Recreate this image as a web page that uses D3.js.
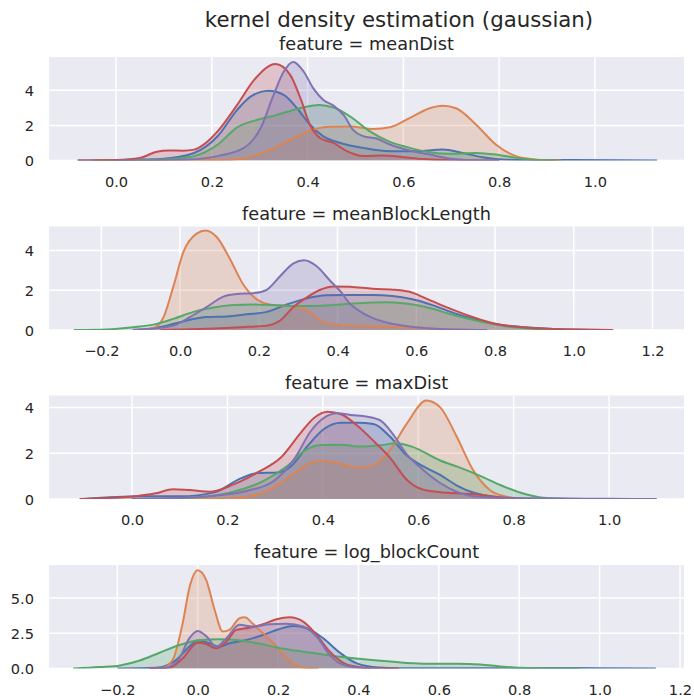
<!DOCTYPE html>
<html>
<head>
<meta charset="utf-8">
<script src="https://cdn.jsdelivr.net/npm/d3@7/dist/d3.min.js"></script>
<style>
  html, body { margin: 0; padding: 0; background: #ffffff; }
  svg { display: block; font-family: "DejaVu Sans", sans-serif; }
</style>
</head>
<body>
<svg id="chart" width="694" height="696"></svg>
<script>
// Facet names and hue colours (seaborn "deep")
const features = ["meanDist", "meanBlockLength", "maxDist", "log_blockCount"];
const hueColors = ["#4C72B0", "#DD8452", "#55A868", "#C44E52", "#8172B3"];

// Axis limits and tick values per facet
const xLimits = [[-0.14, 1.186], [-0.333, 1.28], [-0.174, 1.157], [-0.37, 1.21]];
const yLimits = [[0, 5.9], [0, 5.2], [0, 4.52], [0, 7.35]];
const xTickValues = [
  [0.0, 0.2, 0.4, 0.6, 0.8, 1.0],
  [-0.2, 0.0, 0.2, 0.4, 0.6, 0.8, 1.0, 1.2],
  [0.0, 0.2, 0.4, 0.6, 0.8, 1.0],
  [-0.2, 0.0, 0.2, 0.4, 0.6, 0.8, 1.0, 1.2]
];
const yTickValues = [[0, 2, 4], [0, 2, 4], [0, 2, 4], [0, 2.5, 5]];
const yTickFormats = ["d", "d", "d", ".1f"];

// Density curves per facet, one [x, density] list per hue (blue, orange, green, red, purple)
const meanDistCurves = [
  [[-0.08,0],[0.0,0.02],[0.05,0.05],[0.1,0.1],[0.163,0.43],[0.212,1.38],[0.253,2.89],[0.281,3.64],[0.318,3.97],[0.35,3.74],[0.378,2.98],[0.405,2.04],[0.433,1.38],[0.468,1.0],[0.516,0.72],[0.572,0.53],[0.627,0.53],[0.682,0.62],[0.724,0.43],[0.765,0.19],[0.807,0.06],[0.86,0.03],[0.95,0.03],[1.05,0.02],[1.13,0]],
  [[-0.02,0],[0.1,0.01],[0.2,0.03],[0.246,0.06],[0.28,0.2],[0.316,0.53],[0.364,1.19],[0.405,1.7],[0.447,1.92],[0.489,1.94],[0.537,1.79],[0.572,1.89],[0.613,2.42],[0.655,2.98],[0.682,3.12],[0.71,2.98],[0.752,2.04],[0.793,0.91],[0.835,0.25],[0.88,0.05],[0.93,0]],
  [[-0.05,0],[0.05,0.02],[0.12,0.1],[0.163,0.25],[0.212,0.9],[0.253,1.89],[0.295,2.32],[0.336,2.6],[0.378,2.94],[0.425,3.17],[0.454,3.02],[0.489,2.51],[0.53,1.66],[0.572,1.06],[0.613,0.72],[0.655,0.47],[0.696,0.38],[0.752,0.43],[0.793,0.34],[0.835,0.15],[0.87,0.04],[0.92,0]],
  [[-0.08,0],[0.0,0.03],[0.05,0.15],[0.085,0.5],[0.11,0.57],[0.14,0.56],[0.163,0.62],[0.185,0.95],[0.212,1.66],[0.253,3.17],[0.288,4.58],[0.333,5.5],[0.364,4.87],[0.385,3.55],[0.405,2.04],[0.426,1.28],[0.454,1.0],[0.482,0.53],[0.516,0.25],[0.558,0.28],[0.6,0.19],[0.641,0.09],[0.7,0.02],[0.8,0]],
  [[0.0,0],[0.1,0.02],[0.15,0.05],[0.212,0.25],[0.267,0.72],[0.302,1.85],[0.329,3.74],[0.35,5.06],[0.37,5.62],[0.392,5.06],[0.412,4.11],[0.433,3.45],[0.454,3.13],[0.475,2.6],[0.495,1.75],[0.516,1.38],[0.544,1.25],[0.572,0.91],[0.613,0.57],[0.655,0.34],[0.696,0.11],[0.74,0.02],[0.8,0]]
];
const meanBlockLengthCurves = [
  [[-0.12,0],[-0.1,0.02],[-0.034,0.22],[0.017,0.48],[0.068,0.65],[0.119,0.68],[0.17,0.79],[0.22,0.91],[0.271,1.28],[0.322,1.59],[0.373,1.74],[0.424,1.76],[0.488,1.76],[0.539,1.71],[0.59,1.54],[0.641,1.25],[0.7,0.82],[0.76,0.48],[0.828,0.22],[0.913,0.09],[0.998,0.02],[1.1,0]],
  [[-0.1,0],[-0.068,0.1],[-0.042,0.65],[-0.017,2.19],[0.008,3.9],[0.042,4.84],[0.065,5.0],[0.093,4.67],[0.127,3.56],[0.161,2.27],[0.195,1.54],[0.237,1.25],[0.28,1.2],[0.322,0.99],[0.364,0.39],[0.403,0.25],[0.449,0.2],[0.49,0.19],[0.573,0.14],[0.658,0.05],[0.75,0]],
  [[-0.27,0],[-0.186,0.03],[-0.119,0.14],[-0.068,0.27],[-0.017,0.56],[0.034,0.91],[0.085,1.13],[0.136,1.25],[0.186,1.28],[0.237,1.25],[0.288,1.2],[0.339,1.2],[0.39,1.25],[0.44,1.33],[0.522,1.4],[0.573,1.33],[0.624,1.16],[0.683,0.82],[0.76,0.44],[0.828,0.19],[0.913,0.05],[1.0,0]],
  [[-0.05,0],[0.05,0.05],[0.153,0.14],[0.22,0.22],[0.254,0.48],[0.288,1.16],[0.322,1.64],[0.356,2.02],[0.39,2.19],[0.432,2.17],[0.488,2.07],[0.547,2.02],[0.581,1.93],[0.624,1.59],[0.675,1.16],[0.743,0.65],[0.794,0.34],[0.87,0.14],[0.955,0.05],[1.1,0]],
  [[-0.12,0],[-0.1,0.02],[-0.017,0.22],[0.025,0.65],[0.068,1.16],[0.11,1.68],[0.144,1.81],[0.186,1.85],[0.22,2.02],[0.254,2.7],[0.288,3.35],[0.315,3.5],[0.347,3.2],[0.38,2.5],[0.407,1.95],[0.43,1.35],[0.46,0.9],[0.49,0.6],[0.53,0.35],[0.573,0.2],[0.658,0.05],[0.78,0]]
];
const maxDistCurves = [
  [[-0.1,0],[0.017,0.12],[0.102,0.12],[0.172,0.29],[0.228,0.9],[0.263,1.13],[0.305,1.16],[0.333,1.42],[0.368,2.32],[0.403,3.07],[0.438,3.33],[0.473,3.33],[0.506,3.28],[0.541,2.72],[0.576,1.9],[0.611,1.42],[0.646,1.05],[0.68,0.6],[0.717,0.27],[0.766,0.08],[0.82,0.02],[0.95,0]],
  [[0.05,0],[0.15,0.01],[0.207,0.03],[0.277,0.29],[0.333,1.01],[0.368,1.52],[0.396,1.67],[0.431,1.57],[0.473,1.36],[0.508,1.5],[0.541,2.15],[0.576,3.29],[0.617,4.3],[0.646,4.0],[0.68,2.75],[0.715,1.26],[0.75,0.39],[0.785,0.1],[0.84,0]],
  [[0.0,0],[0.102,0.03],[0.207,0.29],[0.277,0.8],[0.326,1.45],[0.361,2.1],[0.396,2.36],[0.438,2.37],[0.48,2.29],[0.522,2.35],[0.553,2.43],[0.585,2.3],[0.646,1.68],[0.69,1.35],[0.731,1.0],[0.773,0.6],[0.815,0.27],[0.857,0.07],[0.92,0]],
  [[-0.11,0],[-0.004,0.1],[0.05,0.25],[0.086,0.43],[0.12,0.39],[0.165,0.32],[0.214,0.65],[0.263,1.16],[0.312,1.81],[0.354,2.9],[0.382,3.55],[0.41,3.81],[0.438,3.7],[0.473,3.19],[0.508,2.5],[0.541,1.8],[0.576,0.84],[0.611,0.4],[0.662,0.27],[0.717,0.21],[0.766,0.09],[0.82,0]],
  [[0.0,0],[0.1,0.05],[0.172,0.14],[0.242,0.36],[0.298,0.8],[0.34,1.74],[0.375,2.97],[0.403,3.55],[0.431,3.74],[0.459,3.67],[0.494,3.59],[0.522,3.41],[0.548,2.8],[0.576,1.95],[0.611,1.26],[0.646,0.7],[0.68,0.32],[0.715,0.12],[0.8,0.03],[0.9,0.02],[1.0,0.01],[1.1,0]]
];
const logBlockCountCurves = [
  [[-0.2,0],[-0.104,0.05],[-0.054,0.6],[-0.021,1.55],[0.0,1.98],[0.029,1.79],[0.054,1.55],[0.079,1.79],[0.121,2.02],[0.1625,2.38],[0.204,2.81],[0.2375,3.02],[0.271,2.86],[0.3125,2.14],[0.354,1.12],[0.396,0.36],[0.45,0.07],[0.5,0.02],[0.7,0.02],[0.9,0.03],[1.0,0.02],[1.14,0]],
  [[-0.12,0],[-0.0875,0.05],[-0.0625,0.6],[-0.0375,3.2],[-0.02,5.8],[0.0,6.98],[0.021,6.3],[0.042,4.17],[0.0625,2.62],[0.079,2.74],[0.104,3.57],[0.117,3.64],[0.1375,3.17],[0.1625,2.5],[0.1875,1.83],[0.2125,1.07],[0.2375,0.36],[0.2625,0.07],[0.3,0]],
  [[-0.31,0],[-0.243,0.1],[-0.193,0.22],[-0.144,0.57],[-0.095,1.12],[-0.045,1.67],[0.004,2.0],[0.053,2.08],[0.103,2.0],[0.152,1.77],[0.2,1.48],[0.251,1.24],[0.3,1.05],[0.354,0.83],[0.4,0.69],[0.479,0.49],[0.562,0.34],[0.645,0.34],[0.703,0.29],[0.753,0.15],[0.803,0.05],[0.9,0.01],[0.95,0]],
  [[-0.12,0],[-0.071,0.05],[-0.0375,0.71],[0.0,1.83],[0.021,1.74],[0.046,1.43],[0.071,1.9],[0.096,2.74],[0.129,2.9],[0.1625,3.14],[0.196,3.5],[0.229,3.64],[0.2625,3.33],[0.296,2.38],[0.329,1.19],[0.3625,0.4],[0.396,0.12],[0.44,0.02],[0.5,0]],
  [[-0.12,0],[-0.079,0.05],[-0.046,0.71],[-0.021,2.14],[0.0,2.67],[0.021,2.31],[0.046,1.55],[0.071,2.14],[0.104,3.1],[0.1375,2.98],[0.179,3.14],[0.221,3.17],[0.2625,2.98],[0.296,2.26],[0.329,0.95],[0.354,0.36],[0.4,0.05],[0.45,0]]
];
const facetCurves = [meanDistCurves, meanBlockLengthCurves, maxDistCurves, logBlockCountCurves];

// Layout
const svg = d3.select("#chart");
const plotLeft = 49, plotRight = 684;
const panelTops = [57, 226.5, 395.5, 565];
const panelHeight = 103.5;
const textColor = "#262626";
const bg = "#EAEAF2";

svg.append("text")
  .attr("x", 399).attr("y", 27)
  .attr("text-anchor", "middle")
  .attr("font-size", "21.3px")
  .attr("fill", textColor)
  .text("kernel density estimation (gaussian)");

features.forEach((feat, i) => {
  const top = panelTops[i];
  const bottom = top + panelHeight;
  const x = d3.scaleLinear().domain(xLimits[i]).range([plotLeft, plotRight]);
  const y = d3.scaleLinear().domain(yLimits[i]).range([bottom, top]);

  const g = svg.append("g");
  const clipId = "clip" + i;
  g.append("clipPath").attr("id", clipId)
    .append("rect").attr("x", plotLeft).attr("y", top)
    .attr("width", plotRight - plotLeft).attr("height", panelHeight);

  g.append("rect")
    .attr("x", plotLeft).attr("y", top)
    .attr("width", plotRight - plotLeft).attr("height", panelHeight)
    .attr("fill", bg);

  // Grid lines
  const grid = g.append("g").attr("stroke", "#ffffff").attr("stroke-width", 1.5);
  grid.selectAll("line.vx").data(xTickValues[i]).join("line")
    .attr("x1", d => x(d)).attr("x2", d => x(d))
    .attr("y1", top).attr("y2", bottom);
  grid.selectAll("line.hy").data(yTickValues[i]).join("line")
    .attr("y1", d => y(d)).attr("y2", d => y(d))
    .attr("x1", plotLeft).attr("x2", plotRight);

  // Axes (no tick marks, no domain line)
  const xAxis = d3.axisBottom(x).tickValues(xTickValues[i]).tickSize(0).tickPadding(0)
    .tickFormat(d3.format(".1f"));
  const xa = g.append("g").attr("transform", `translate(0,${bottom})`).call(xAxis);
  xa.select(".domain").remove();
  xa.selectAll("text").attr("y", 0).attr("dy", "26px")
    .attr("font-size", "14.6px").attr("fill", textColor)
    .attr("font-family", "DejaVu Sans");

  const yAxis = d3.axisLeft(y).tickValues(yTickValues[i]).tickSize(0).tickPadding(0)
    .tickFormat(d3.format(yTickFormats[i]));
  const ya = g.append("g").attr("transform", `translate(${plotLeft},0)`).call(yAxis);
  ya.select(".domain").remove();
  ya.selectAll("text").attr("x", -15).attr("dy", "0.36em")
    .attr("font-size", "14.6px").attr("fill", textColor)
    .attr("font-family", "DejaVu Sans");

  // Density fills first, then outlines on top
  const curves = facetCurves[i];
  const area = d3.area().x(d => x(d[0])).y0(y(0)).y1(d => y(d[1])).curve(d3.curveMonotoneX);
  const line = d3.line().x(d => x(d[0])).y(d => y(d[1])).curve(d3.curveMonotoneX);
  const marks = g.append("g").attr("clip-path", `url(#${clipId})`);
  curves.forEach((c, k) => {
    marks.append("path").attr("d", area(c))
      .attr("fill", hueColors[k]).attr("fill-opacity", 0.25).attr("stroke", "none");
  });
  curves.forEach((c, k) => {
    marks.append("path").attr("d", line(c))
      .attr("fill", "none").attr("stroke", hueColors[k])
      .attr("stroke-width", 2).attr("stroke-linejoin", "round");
  });

  // Facet title
  svg.append("text")
    .attr("x", (plotLeft + plotRight) / 2).attr("y", top - 7)
    .attr("text-anchor", "middle")
    .attr("font-size", "17.7px")
    .attr("fill", textColor)
    .text("feature = " + feat);
});
</script>
</body>
</html>
